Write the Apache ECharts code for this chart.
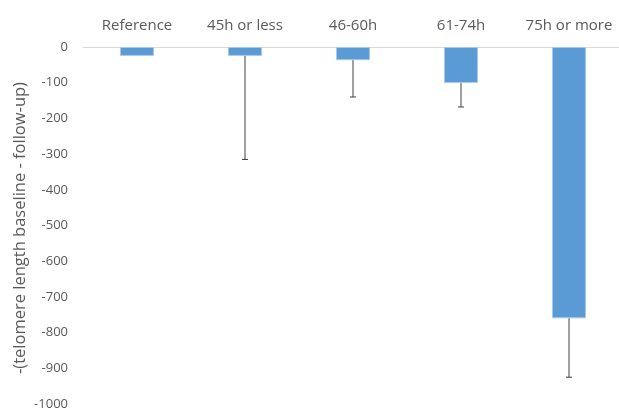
<!DOCTYPE html>
<html>
<head>
<meta charset="utf-8">
<script src="https://cdn.jsdelivr.net/npm/echarts@6/dist/echarts.min.js"></script>
<style>
html, body { margin: 0; padding: 0; background: #fff; }
#main { width: 619px; height: 409px; }
</style>
</head>
<body>
<div id="main"></div>
<script>
// categories and values
var categories = ['Reference', '45h or less', '46-60h', '61-74h', '75h or more'];
var means = [-25, -25, -37, -101, -760];
var errLow = [-25, -315, -140, -168, -925]; // lower end of error bar
var yTitle = '-(telomere length baseline - follow-up)';

var errData = [];
for (var i = 0; i < categories.length; i++) {
    errData.push([i, means[i], errLow[i]]);
}

var chart = echarts.init(document.getElementById('main'));

var option = {
    animation: false,
    grid: { left: 83, right: -4, top: 47, bottom: 5, containLabel: false, outerBoundsMode: 'none' },
    graphic: [{
        type: 'text',
        x: 20,
        y: 228,
        rotation: Math.PI / 2,
        style: {
            text: yTitle,
            fill: '#595959',
            font: '16.5px "Open Sans"',
            align: 'center',
            verticalAlign: 'middle'
        }
    }],
    xAxis: {
        type: 'category',
        position: 'top',
        data: categories,
        axisLine: { show: true, lineStyle: { color: '#d9d9d9', width: 1 } },
        axisTick: { show: false },
        axisLabel: { color: '#595959', fontSize: 15, fontFamily: 'Open Sans', margin: 14, interval: 0 }
    },
    yAxis: {
        type: 'value',
        min: -1000,
        max: 0,
        interval: 100,
        axisLine: { show: false },
        axisTick: { show: false },
        splitLine: { show: false },
        axisLabel: {
            color: '#595959', fontSize: 13, fontFamily: 'Open Sans', margin: 15,
            formatter: function (v) { return String(v); }
        }
    },
    series: [
        {
            type: 'bar',
            data: means,
            barWidth: 34,
            itemStyle: { color: '#5b9bd5', borderColor: '#a9c9ea', borderWidth: 1 }
        },
        {
            type: 'custom',
            data: errData,
            z: 5,
            renderItem: function (params, api) {
                if (api.value(2) >= api.value(1)) {
                    return null;
                }
                var top = api.coord([api.value(0), api.value(1)]);
                var bot = api.coord([api.value(0), api.value(2)]);
                var cap = 3;
                var st = { stroke: '#404040', lineWidth: 1 };
                return {
                    type: 'group',
                    children: [
                        { type: 'line', shape: { x1: top[0], y1: top[1], x2: bot[0], y2: bot[1] }, style: st },
                        { type: 'line', shape: { x1: bot[0] - cap, y1: bot[1], x2: bot[0] + cap, y2: bot[1] }, style: st }
                    ]
                };
            }
        }
    ]
};

chart.setOption(option);
</script>
</body>
</html>
